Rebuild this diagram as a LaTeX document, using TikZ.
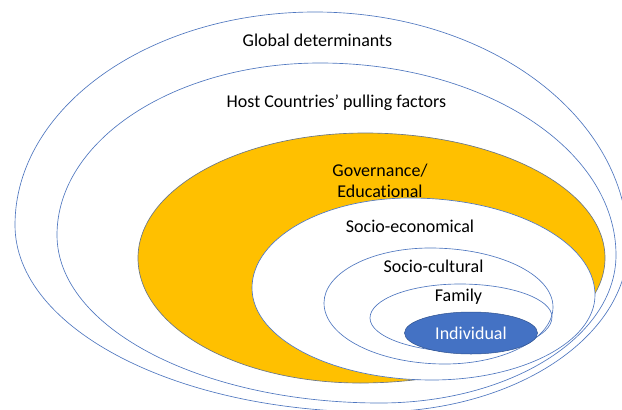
\documentclass[tikz,border=0pt]{standalone}
\usepackage{fontspec}
\setmainfont[Ligatures={NoCommon}]{Carlito}
\usetikzlibrary{shapes.geometric}
\definecolor{ringblue}{HTML}{4F77C0}
\definecolor{gold}{HTML}{FFC000}
\definecolor{goldedge}{HTML}{6A7788}
\definecolor{indivfill}{HTML}{4472C4}
\definecolor{indivedge}{HTML}{2F528F}
% egg-shaped closed curve through top (#2,#3), right (#4,#5), bottom (#6,#7), left (#8,#9)
\newcommand\eggdraw[9]{\path[#1] (#2,#3) .. controls ({#2+0.5523*(#4-#2)},#3) and (#4,{#5-0.5523*(#5-#3)}) .. (#4,#5) .. controls (#4,{#5+0.5523*(#7-#5)}) and ({#6+0.5523*(#4-#6)},#7) .. (#6,#7) .. controls ({#6-0.5523*(#6-#8)},#7) and (#8,{#9+0.5523*(#7-#9)}) .. (#8,#9) .. controls (#8,{#9-0.5523*(#9-#3)}) and ({#2-0.5523*(#2-#8)},#3) .. cycle;}
\tikzset{
  ring/.style={draw=ringblue, line width=0.65pt},
  whitering/.style={ring, fill=white},
  goldring/.style={draw=goldedge, line width=0.65pt, fill=gold},
  lbl/.style={font=\fontsize{18}{21}\selectfont, text=black, inner sep=0pt, align=center},
  indiv/.style={ellipse, fill=indivfill, draw=indivedge, line width=0.5pt, minimum width=133pt, minimum height=42pt, inner sep=0pt, text=white, font=\fontsize{18}{21}\selectfont}
}
\begin{document}
\begin{tikzpicture}[x=1pt, y=-1pt]
\useasboundingbox (0,0) rectangle (622,410);
\fill[white] (0,0) rectangle (622,410);
% Global determinants
\eggdraw{whitering}{315}{12}{628}{245}{375}{412}{15}{225}
% Host countries
\eggdraw{whitering}{320}{63}{616}{255}{380}{403}{57}{235}
% Governance / Educational
\eggdraw{goldring}{365}{133}{605}{258}{360}{383}{138}{258}
% Socio-economical
\eggdraw{whitering}{410}{198}{595}{295}{432}{380}{252}{288}
% Socio-cultural
\eggdraw{ring}{430}{248}{553}{307}{445}{364}{324}{303}
% Family
\eggdraw{ring}{460}{284}{552}{317}{466}{352}{370}{318}
% Individual
\node[indiv] (ind) at (471,333) {Individual};
\node[lbl] (glob) at (317.5,40) {Global determinants};
\node[lbl] (host) at (336.5,103) {Host Countries’ pulling factors};
\node[lbl] (gov) at (380,180.5) {Governance/\\Educational};
\node[lbl] (soe) at (410,226.7) {Socio-economical};
\node[lbl] (soc) at (433.5,266) {Socio-cultural};
\node[lbl] (fam) at (458.5,296.7) {Family};
\end{tikzpicture}
\end{document}
